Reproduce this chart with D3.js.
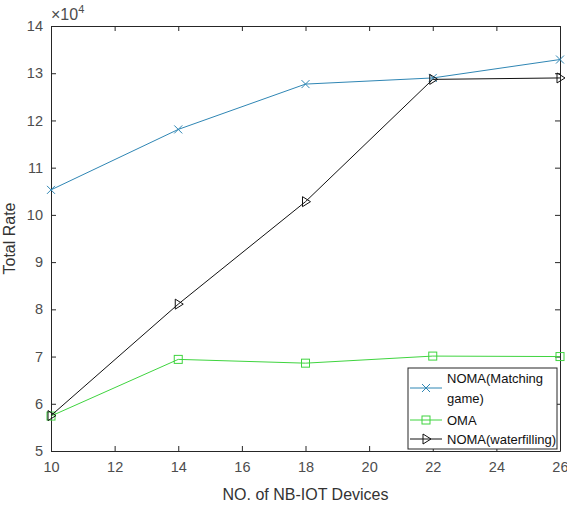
<!DOCTYPE html>
<meta charset="utf-8">
<script src="https://d3js.org/d3.v7.min.js"></script>
<style>
  body { margin: 0; background: #fff; }
  text { font-family: "Liberation Sans", Arial, sans-serif; }
</style>
<div id="chart"></div>
<script>
// device counts on the x axis
var devices = [10, 14, 18, 22, 26];
// total rate, in units of 1e4
var matching = [10.53, 11.81, 12.77, 12.9, 13.29];
var oma = [5.74, 6.94, 6.86, 7.01, 7.0];
var waterfilling = [5.75, 8.11, 10.28, 12.87, 12.9];

var xTicks = [10, 12, 14, 16, 18, 20, 22, 24, 26];
var yTicks = [5, 6, 7, 8, 9, 10, 11, 12, 13, 14];

var W = 567, H = 505;
var margin = {top: 26, right: 7, bottom: 54, left: 51},
    width = W - margin.left - margin.right,
    height = H - margin.top - margin.bottom;

var svg = d3.select("#chart").append("svg")
    .attr("width", W)
    .attr("height", H);

var g = svg.append("g")
    .attr("transform", "translate(" + margin.left + "," + margin.top + ")");

var x = d3.scaleLinear().domain([10, 26]).range([0, width]);
var y = d3.scaleLinear().domain([5, 14]).range([height, 0]);

// axes, ticks pointing inward
var axisColor = "#262626";
function styleAxis(sel, showText) {
  sel.select(".domain").attr("stroke", axisColor);
  sel.selectAll(".tick line").attr("stroke", axisColor);
  sel.selectAll(".tick text")
    .attr("fill", "#4d4d4d")
    .style("font-size", "14.5px")
    .style("display", showText ? null : "none");
}

var xAxis = g.append("g")
  .attr("transform", "translate(0," + height + ")")
  .call(d3.axisBottom(x).tickValues(xTicks).tickSize(-5).tickPadding(11).tickSizeOuter(0))
  .call(styleAxis, true);
// keep the last label inside the window
xAxis.selectAll(".tick text").filter(function(d) { return d === 26; })
  .attr("text-anchor", "end").attr("dx", "8");
g.append("g")
  .call(d3.axisTop(x).tickValues(xTicks).tickSize(-5).tickSizeOuter(0))
  .call(styleAxis, false);
g.append("g")
  .call(d3.axisLeft(y).tickValues(yTicks).tickSize(-5).tickPadding(8).tickSizeOuter(0))
  .call(styleAxis, true);
g.append("g")
  .attr("transform", "translate(" + width + ",0)")
  .call(d3.axisRight(y).tickValues(yTicks).tickSize(-5).tickSizeOuter(0))
  .call(styleAxis, false);

// exponent label
var expo = g.append("text")
  .attr("x", 0).attr("y", -6)
  .attr("fill", "#4d4d4d")
  .style("font-size", "16px");
expo.append("tspan").text("\u00d710");
expo.append("tspan").attr("dy", -7).style("font-size", "11px").text("4");

// axis labels
g.append("text")
  .attr("x", width / 2).attr("y", height + 49)
  .attr("text-anchor", "middle")
  .attr("fill", "#333")
  .style("font-size", "16px")
  .text("NO. of NB-IOT Devices");
g.append("text")
  .attr("transform", "translate(-36," + (height / 2) + ") rotate(-90)")
  .attr("text-anchor", "middle")
  .attr("fill", "#333")
  .style("font-size", "16px")
  .text("Total Rate");

var series = [
  {name: ["NOMA(Matching", "game)"], values: matching, color: "#2f86b4", marker: "cross"},
  {name: ["OMA"], values: oma, color: "#3fd43f", marker: "square"},
  {name: ["NOMA(waterfilling)"], values: waterfilling, color: "#111", marker: "triangle"}
];

var line = d3.line()
  .x(function(d, i) { return x(devices[i]); })
  .y(function(d) { return y(d); });

function drawMarker(sel, type, color) {
  if (type === "cross") {
    sel.append("path").attr("d", "M-4,-4L4,4M-4,4L4,-4")
      .attr("stroke", color).attr("fill", "none").attr("stroke-width", 1);
  } else if (type === "square") {
    sel.append("rect").attr("x", -4).attr("y", -4).attr("width", 8).attr("height", 8)
      .attr("stroke", color).attr("fill", "none").attr("stroke-width", 1);
  } else {
    sel.append("path").attr("d", "M-3,-5L5,0L-3,5Z")
      .attr("stroke", color).attr("fill", "none").attr("stroke-width", 1);
  }
}

series.forEach(function(s) {
  g.append("path")
    .datum(s.values)
    .attr("fill", "none")
    .attr("stroke", s.color)
    .attr("stroke-width", 1)
    .attr("d", line);
  s.values.forEach(function(v, i) {
    var m = g.append("g")
      .attr("transform", "translate(" + x(devices[i]) + "," + y(v) + ")");
    drawMarker(m, s.marker, s.color);
  });
});

// legend
var legend = svg.append("g").attr("transform", "translate(408,368)");
legend.append("rect")
  .attr("width", 149).attr("height", 81)
  .attr("fill", "#fff").attr("stroke", axisColor).attr("stroke-width", 1);

var rows = [20, 52, 71];
series.forEach(function(s, k) {
  var ly = rows[k];
  var item = legend.append("g").attr("transform", "translate(0," + ly + ")");
  item.append("line").attr("x1", 2).attr("x2", 34)
    .attr("stroke", s.color).attr("stroke-width", 1);
  drawMarker(item.append("g").attr("transform", "translate(18,0)"), s.marker, s.color);
  var t = item.append("text")
    .attr("x", 39)
    .attr("fill", "#111")
    .style("font-size", "13px");
  if (s.name.length === 2) {
    t.append("tspan").attr("x", 39).attr("y", -5).text(s.name[0]);
    t.append("tspan").attr("x", 39).attr("y", 15).text(s.name[1]);
  } else {
    t.attr("y", 5).text(s.name[0]);
  }
});
</script>
